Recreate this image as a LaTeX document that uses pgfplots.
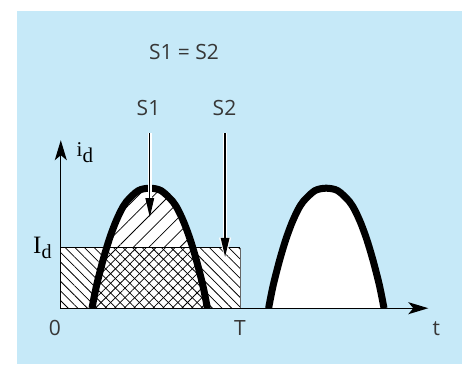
\documentclass[border=0pt]{standalone}
\usepackage{pgfplots}
\pgfplotsset{compat=1.18}
\usepackage{pgfplotstable}
\usetikzlibrary{arrows.meta,patterns.meta}
\usepackage{fontspec}
\setmainfont{Open Sans}
\newfontfamily\tms{Liberation Serif}
\definecolor{bgblue}{RGB}{198,233,248}
\definecolor{txt}{RGB}{55,55,55}

\pgfplotstableread{
t h
31.2 0
34.1 15
37.0 28
42.7 49.8
48.5 69
54.3 84.8
60.0 97.3
65.8 106.7
77.4 117.5
88.9 120
100.4 117.5
112.0 106.7
117.8 97.3
123.5 84.8
129.3 69
135.1 49.8
140.8 28
143.7 15
146.6 0
}\pulseA

\pgfplotstableread{
t h
207.8 0
210.7 15
213.6 28
219.3 49.8
225.1 69
230.9 84.8
236.6 97.3
242.4 106.7
254.0 117.5
265.5 120
277.0 117.5
288.6 106.7
294.4 97.3
300.1 84.8
305.9 69
311.7 49.8
317.4 28
320.3 15
323.2 0
}\pulseB

\begin{document}
\begin{tikzpicture}
\path[use as bounding box, fill=white] (0pt,0pt) rectangle (468pt,365pt);
\fill[bgblue] (17pt,0.7pt) rectangle (462pt,354pt);
\begin{axis}[
  at={(60.8pt,56.8pt)}, anchor=south west,
  width=367.5pt, height=168pt, scale only axis,
  xmin=0, xmax=367.5, ymin=0, ymax=168,
  axis lines=none,
  xtick=\empty, ytick=\empty,
  clip=false,
]
% white fills
\addplot[fill=white, draw=none, smooth] table {\pulseA} \closedcycle;
\addplot[fill=white, draw=none, smooth] table {\pulseB} \closedcycle;
\addplot[fill=white, draw=none] coordinates {(0,60.7) (179.5,60.7)} \closedcycle;
% S2 hatch (rectangle)
\addplot[draw=none, pattern={Lines[angle=-45,distance=6.8pt,line width=0.75pt]}] coordinates {(0,60.7) (179.5,60.7)} \closedcycle;
% hatch inside pulse, below Id
\addplot[draw=none, pattern={Lines[angle=45,distance=6.8pt,line width=0.75pt]}] coordinates {(31.2,0) (34.1,15) (37.0,28) (42.7,49.8) (46.0,60.7) (131.8,60.7) (135.1,49.8) (140.8,28) (143.7,15) (146.6,0)} -- cycle;
% hatch inside pulse, above Id
\addplot[draw=none, pattern={Lines[angle=45,distance=11pt,line width=0.75pt]}] coordinates {(46.0,60.7) (48.5,69) (54.3,84.8) (60.0,97.3) (65.8,106.7) (77.4,117.5) (88.9,120) (100.4,117.5) (112.0,106.7) (117.8,97.3) (123.5,84.8) (129.3,69) (131.8,60.7)} -- cycle;
% rectangle border
\addplot[black, line width=0.8pt] coordinates {(0,60.7) (179.5,60.7)};
\addplot[black!60, line width=0.8pt] coordinates {(179.5,60.7) (179.5,0)};
% pulses
\addplot[black, line width=7pt, smooth] table {\pulseA};
\addplot[black, line width=7pt, smooth] table {\pulseB};
% axes
\draw[line width=1.3pt, -{Stealth[length=20pt,width=12pt,inset=5pt]}] (axis cs:-0.65,0) -- (axis cs:367.5,0);
\draw[line width=1.3pt, -{Stealth[length=20pt,width=12pt,inset=5pt]}] (axis cs:0,0) -- (axis cs:0,168);
% arrows with halo
\draw[white, line width=3.5pt] (axis cs:89.0,175) -- (axis cs:89.0,100);
\draw[white, line width=3.5pt] (axis cs:164.3,175) -- (axis cs:164.3,62);
\draw[white, -{Triangle[length=21pt,width=12pt]}] (axis cs:164.3,80) -- (axis cs:164.3,49.5);
\draw[line width=1.3pt, -{Triangle[length=19pt,width=8.5pt]}] (axis cs:89.0,175) -- (axis cs:89.0,91);
\draw[line width=1.3pt, -{Triangle[length=19pt,width=8.5pt]}] (axis cs:164.3,175) -- (axis cs:164.3,51.3);
\end{axis}
% texts
\node[anchor=base, inner sep=0pt, text=txt, font=\fontsize{21}{24}\selectfont] at (184pt,305.7pt) {S1 = S2};
\node[anchor=base, inner sep=0pt, text=txt, font=\fontsize{21}{24}\selectfont] at (148.5pt,250pt) {S1};
\node[anchor=base, inner sep=0pt, text=txt, font=\fontsize{21}{24}\selectfont] at (224.5pt,250pt) {S2};
\node[anchor=base, inner sep=0pt, text=txt, font=\fontsize{21}{24}\selectfont] at (55pt,30pt) {0};
\node[anchor=base, inner sep=0pt, text=txt, font=\fontsize{21}{24}\selectfont] at (240pt,30pt) {T};
\node[anchor=base, inner sep=0pt, text=txt, font=\fontsize{21}{24}\selectfont] at (436.3pt,30pt) {t};
\node[anchor=base west, inner sep=0pt] at (76.5pt,208.3pt) {\tms\fontsize{21}{24}\selectfont i\raisebox{-5.6pt}{d}};
\node[anchor=base west, inner sep=0pt] at (33pt,111.7pt) {\tms\fontsize{25}{28}\selectfont I\raisebox{-5pt}{\fontsize{20}{22}\selectfont d}};
\end{tikzpicture}
\end{document}
